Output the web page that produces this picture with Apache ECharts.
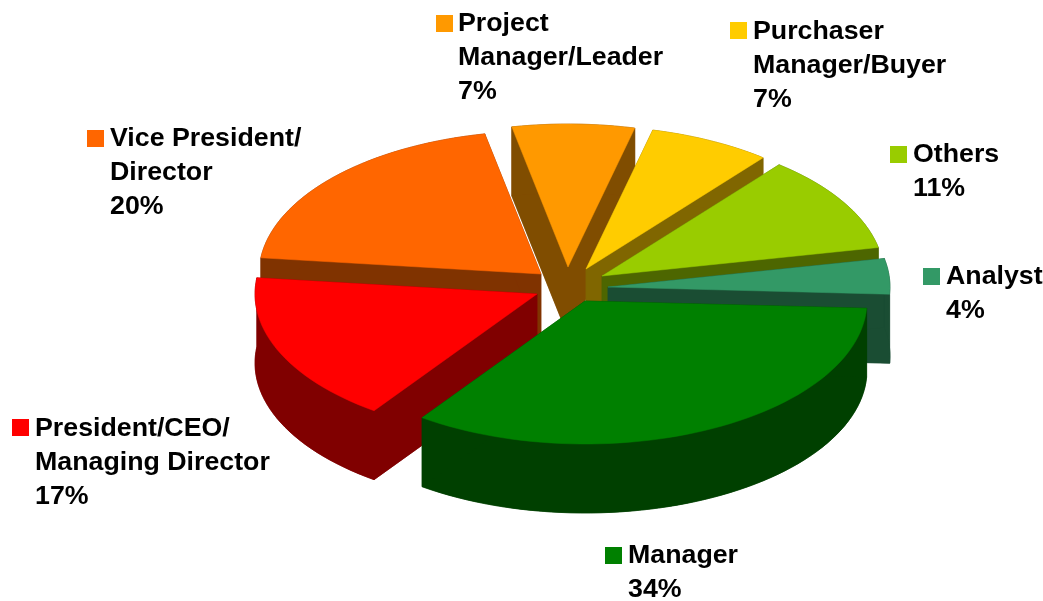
<!DOCTYPE html>
<html>
<head>
<meta charset="utf-8">
<title>Respondents by job title</title>
<script src="https://cdn.jsdelivr.net/npm/echarts@6/dist/echarts.min.js"></script>
<style>
html,body{margin:0;padding:0;background:#fff;}
#main{width:1043px;height:601px;}
</style>
</head>
<body>
<div id="main"></div>
<script>
// clockwise, starting from the slice at the top
var categories = ['Project\nManager/Leader','Purchaser\nManager/Buyer','Others','Analyst','Manager','President/CEO/\nManaging Director','Vice President/\nDirector'];
var shares = [7,7,11,4,34,17,20];

var topColors = ['#ff9900','#ffcc00','#99cc00','#339966','#008000','#ff0000','#ff6600'];
var sideColors = ['#804d00','#806600','#4d6600','#1a4d33','#004000','#800000','#803300'];

// exploded tip of every slice
var tipX = [568,586,602,608,585,537,541];
var tipY = [267,269,276,287,301,294,274];
// painter's order, back to front
var drawRank = [0,1,3,4,6,5,2];
// legend key and label
var keyX = [436,730,890,923,605,12,87];
var keyY = [15,22,146,268,547,419,130];
var textX = [458,753,913,946,628,35,110];
var textY = [7,15,138,260,539,412,122];

var radiusX = 282, radiusY = 143, depth = 69, startAngle = -11.5;
var total = shares.reduce(function(a,b){return a+b;},0);

function rimPoint(i,deg,drop){
	var r = deg*Math.PI/180;
	return [tipX[i]+radiusX*Math.sin(r), tipY[i]-radiusY*Math.cos(r)+drop];
}

function renderSlice(params,api){
	var i = params.dataIndex;
	var before = 0;
	for(var k=0;k<i;k++){ before += shares[k]; }
	var from = startAngle+before/total*360;
	var to = from+api.value(0)/total*360;

	var rim = [], rimLow = [];
	for(var d=from;d<to;d+=2){
		rim.push(rimPoint(i,d,0));
		rimLow.push(rimPoint(i,d,depth));
	}
	rim.push(rimPoint(i,to,0));
	rimLow.push(rimPoint(i,to,depth));

	var tip = [tipX[i],tipY[i]], tipLow = [tipX[i],tipY[i]+depth];
	var first = rim[0], last = rim[rim.length-1];
	var firstLow = rimLow[0], lastLow = rimLow[rimLow.length-1];
	var z = drawRank[i]*2;

	function face(points,color,z2){
		return {type:'polygon',z2:z2,shape:{points:points},style:{fill:color,stroke:color,lineWidth:0.5}};
	}

	return {
		type:'group',
		children:[
			face([tip,first,firstLow,tipLow],sideColors[i],z),
			face([tip,last,lastLow,tipLow],sideColors[i],z),
			face(rim.concat(rimLow.slice().reverse()),sideColors[i],z),
			face([tipLow].concat(rimLow),sideColors[i],z),
			face([tip].concat(rim),topColors[i],z+1),
			{type:'rect',z2:30,shape:{x:keyX[i],y:keyY[i],width:17,height:17},style:{fill:topColors[i]}},
			// the original text runs wider than Liberation Sans at this height
			{type:'text',z2:30,x:textX[i],y:textY[i],scaleX:1.07,style:{
				text:categories[i]+'\n'+api.value(0)+'%',
				fill:'#000',
				font:'bold 25px "Liberation Sans", Arial, sans-serif',
				lineHeight:34,
				verticalAlign:'top'
			}}
		]
	};
}

var chart = echarts.init(document.getElementById('main'),null,{renderer:'canvas'});
chart.setOption({
	animation:false,
	series:[{
		type:'custom',
		coordinateSystem:'none',
		silent:true,
		renderItem:renderSlice,
		data:shares.map(function(v){return [v];})
	}]
});
</script>
</body>
</html>
